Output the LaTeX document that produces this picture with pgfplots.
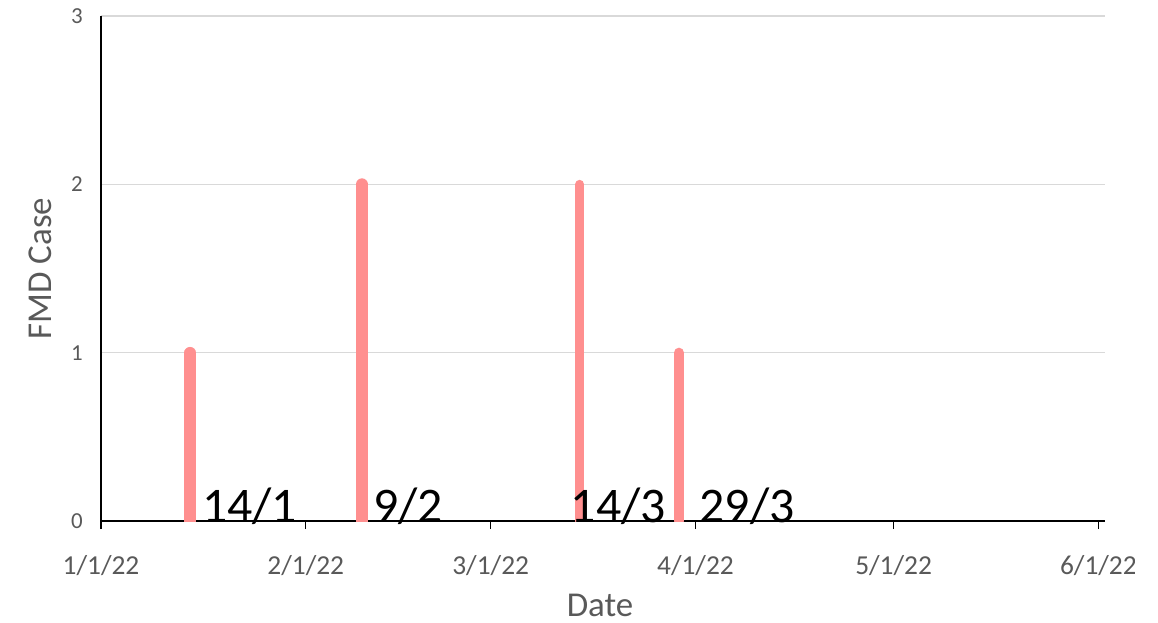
\documentclass[border=0pt]{standalone}
\usepackage{pgfplots}
\pgfplotsset{compat=1.18}
\usepackage{fontspec}
\setmainfont{Carlito}
\definecolor{barc}{RGB}{255,143,143}
\definecolor{tickgray}{RGB}{89,89,89}
\definecolor{gridgray}{RGB}{217,217,217}
\begin{document}
\begin{tikzpicture}
\useasboundingbox (-101bp,-102bp) rectangle (1057bp,521bp);
\clip (-101bp,-102bp) rectangle (1033bp,521bp);
\begin{axis}[
  scale only axis, width=1004bp, height=505bp,
  xmin=0, xmax=152, ymin=0, ymax=3,
  clip mode=individual,
  axis x line=bottom, axis y line=left,
  axis line style={-, black, line width=1.5bp},
  xtick={0,31,59,90,120,151},
  xticklabels={1/1/22,2/1/22,3/1/22,4/1/22,5/1/22,6/1/22},
  ytick={0,1,2,3}, yticklabels={0,1,2,3},
  ymajorgrids, major grid style={gridgray, line width=1.2bp},
  tick align=outside, major tick length=8bp,
  xtick style={black, line width=1.3bp},
  ytick style={draw=none},
  xticklabel style={font=\fontsize{27.5}{30}\selectfont, text=tickgray, anchor=base, inner sep=0pt, yshift=-45bp},
  yticklabel style={font=\fontsize{23}{26}\selectfont, text=tickgray, anchor=east, inner sep=0pt, xshift=-10bp},
  every axis x label/.style={at={([xshift=-3bp,yshift=-95bp]axis description cs:0.5,0)}, anchor=base, font=\fontsize{35}{40}\selectfont, text=tickgray},
  every axis y label/.style={at={([xshift=-49bp]axis description cs:0,0.5)}, rotate=90, anchor=base, font=\fontsize{35}{40}\selectfont, text=tickgray},
  xlabel={Date}, ylabel={FMD Case},
]
\addplot[ycomb, barc, line width=11.5bp, line cap=round, mark=none] coordinates {(13.5,1)};
\addplot[ycomb, barc, line width=12bp, line cap=round, mark=none] coordinates {(39.5,2)};
\addplot[ycomb, barc, line width=9bp, line cap=round, mark=none] coordinates {(72.5,2)};
\addplot[ycomb, barc, line width=10bp, line cap=round, mark=none] coordinates {(87.5,1)};
\node[anchor=base west, inner sep=0pt, font=\fontsize{50}{55}\selectfont] at ([yshift=-1.5bp]axis cs:15.3,0) {14/1};
\node[anchor=base west, inner sep=0pt, font=\fontsize{50}{55}\selectfont] at ([yshift=-1.5bp]axis cs:41.15,0) {9/2};
\node[anchor=base west, inner sep=0pt, font=\fontsize{50}{55}\selectfont] at ([yshift=-1.5bp]axis cs:71.1,0) {14/3};
\node[anchor=base west, inner sep=0pt, font=\fontsize{50}{55}\selectfont] at ([yshift=-1.5bp]axis cs:90.6,0) {29/3};
\end{axis}
\end{tikzpicture}
\end{document}
